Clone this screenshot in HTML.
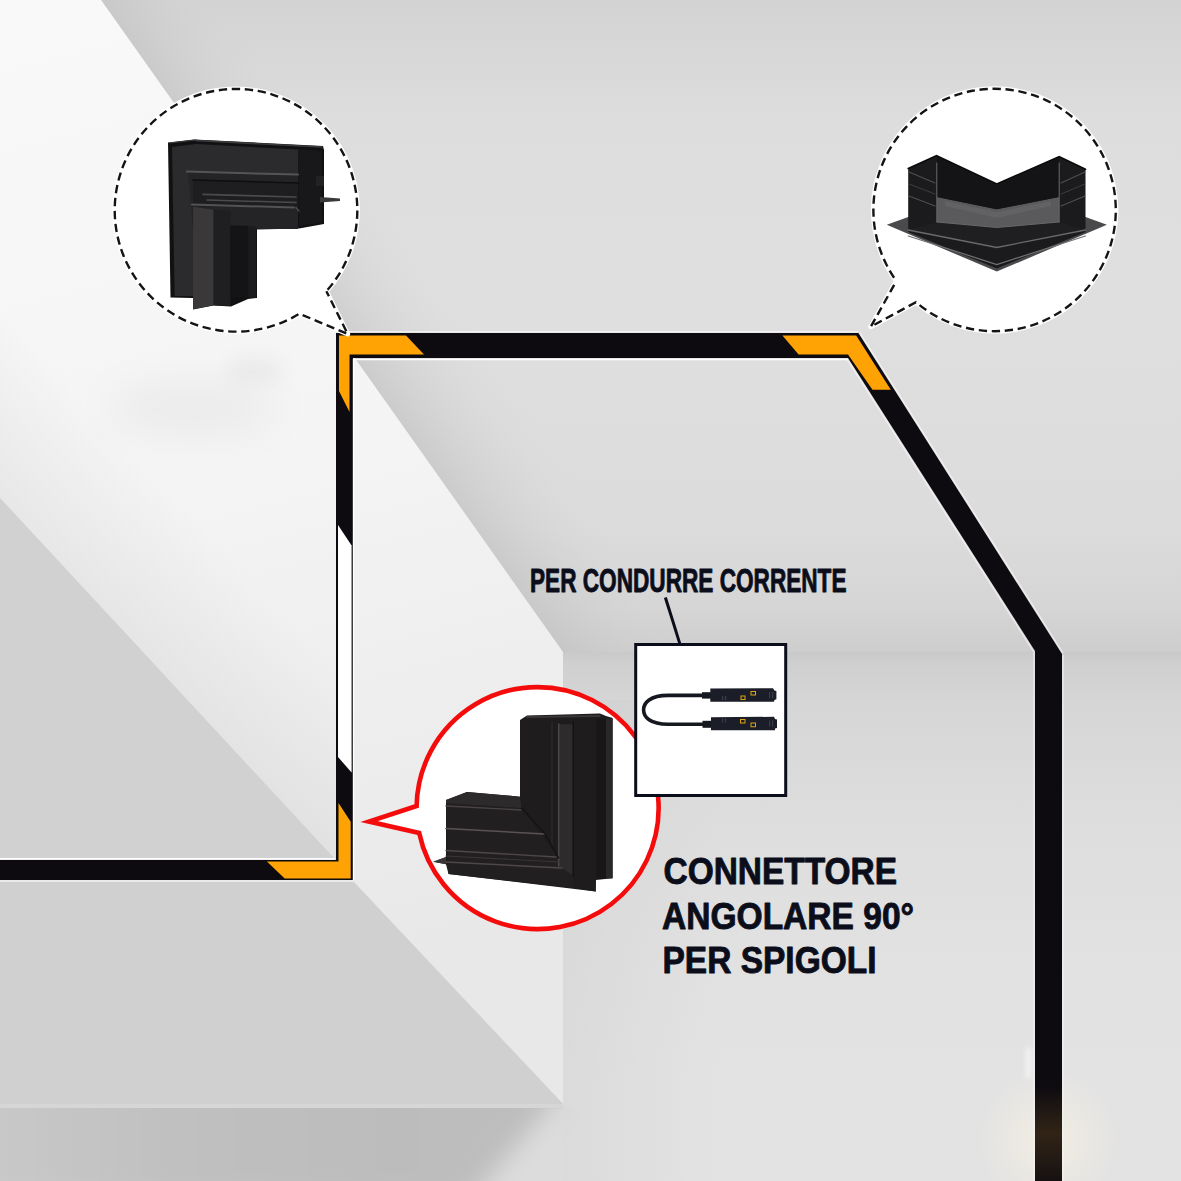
<!DOCTYPE html>
<html><head><meta charset="utf-8">
<style>
html,body{margin:0;padding:0;width:1181px;height:1181px;overflow:hidden;background:#dcdcdc;}
svg{display:block;position:absolute;left:0;top:0;}
.t{font-family:"Liberation Sans",sans-serif;font-weight:bold;fill:#0b0e1a;stroke:#0b0e1a;stroke-width:0.9;stroke-linejoin:round;}
</style></head><body>
<svg width="1181" height="1181" viewBox="0 0 1181 1181">
<defs>
<linearGradient id="ceil" gradientUnits="userSpaceOnUse" x1="0" y1="0" x2="0" y2="655">
<stop offset="0" stop-color="#d3d3d3"/><stop offset="0.18" stop-color="#dddddd"/><stop offset="0.45" stop-color="#dfdfdf"/><stop offset="0.8" stop-color="#dcdcdc"/><stop offset="0.93" stop-color="#d5d5d5"/><stop offset="1" stop-color="#cdcdcd"/>
</linearGradient>
<!-- shade along L1 on ceiling side: perpendicular direction (652,-462) -->
<linearGradient id="l1shade" gradientUnits="userSpaceOnUse" x1="332" y1="326" x2="422" y2="262">
<stop offset="0" stop-color="#c4c4c4" stop-opacity="0.7"/><stop offset="1" stop-color="#d8d8d8" stop-opacity="0"/>
</linearGradient>
<linearGradient id="wall" gradientUnits="userSpaceOnUse" x1="0" y1="652" x2="0" y2="1181">
<stop offset="0" stop-color="#c9c9c9"/><stop offset="0.02" stop-color="#cfcfcf"/><stop offset="0.1" stop-color="#d6d6d6"/><stop offset="0.3" stop-color="#dddddd"/><stop offset="0.55" stop-color="#e1e1e1"/><stop offset="0.8" stop-color="#e3e3e3"/><stop offset="1" stop-color="#e3e3e3"/>
</linearGradient>
<linearGradient id="white" gradientUnits="userSpaceOnUse" x1="0" y1="0" x2="250" y2="1000">
<stop offset="0" stop-color="#f9f9f9"/><stop offset="0.5" stop-color="#f4f4f4"/><stop offset="1" stop-color="#e8e8e8"/>
</linearGradient>
<linearGradient id="botband" gradientUnits="userSpaceOnUse" x1="0" y1="0" x2="560" y2="0">
<stop offset="0" stop-color="#c8c8c8"/><stop offset="0.3" stop-color="#c0c0c0"/><stop offset="0.7" stop-color="#bcbcbc"/><stop offset="1" stop-color="#bebebe"/>
</linearGradient>
<clipPath id="bbclip"><rect x="0" y="1108" width="600" height="80"/></clipPath>
<filter id="blur8" x="-20%" y="-50%" width="140%" height="200%"><feGaussianBlur stdDeviation="9"/></filter>
<radialGradient id="glow" cx="1048" cy="1140" r="70" gradientUnits="userSpaceOnUse">
<stop offset="0" stop-color="#fbf3e2" stop-opacity="0.65"/><stop offset="1" stop-color="#fbf3e2" stop-opacity="0"/>
</radialGradient>
<linearGradient id="barglow" gradientUnits="userSpaceOnUse" x1="0" y1="1085" x2="0" y2="1181">
<stop offset="0" stop-color="#3a2a18" stop-opacity="0"/><stop offset="0.5" stop-color="#3a2a18" stop-opacity="0.8"/><stop offset="1" stop-color="#3a2a18" stop-opacity="0.2"/>
</linearGradient>
<filter id="blur20" x="-50%" y="-50%" width="200%" height="200%"><feGaussianBlur stdDeviation="20"/></filter>
<filter id="blur3" x="-50%" y="-50%" width="200%" height="200%"><feGaussianBlur stdDeviation="2.5"/></filter>
<linearGradient id="l2shade" gradientUnits="userSpaceOnUse" x1="167" y1="678" x2="262" y2="590">
<stop offset="0" stop-color="#d0d0d0" stop-opacity="0.35"/><stop offset="1" stop-color="#d0d0d0" stop-opacity="0"/>
</linearGradient>
<linearGradient id="wallleft" gradientUnits="userSpaceOnUse" x1="563" y1="0" x2="720" y2="0">
<stop offset="0" stop-color="#c8c8c8" stop-opacity="0.3"/><stop offset="1" stop-color="#c8c8c8" stop-opacity="0"/>
</linearGradient>
<filter id="blur12" x="-20%" y="-50%" width="140%" height="200%"><feGaussianBlur stdDeviation="12"/></filter>
</defs>
<!-- ceiling -->
<rect x="0" y="0" width="1181" height="660" fill="url(#ceil)"/>
<polygon points="101,0 563,652 800,652 340,0" fill="url(#l1shade)"/>
<!-- right wall -->
<rect x="563" y="652" width="618" height="529" fill="url(#wall)"/>
<rect x="563" y="700" width="160" height="481" fill="url(#wallleft)"/>
<rect x="960" y="1060" width="180" height="121" fill="url(#glow)"/>
<rect x="1026" y="1048" width="5" height="30" fill="#f4f4f4" filter="url(#blur3)"/>
<!-- white wall face -->
<polygon points="0,0 101,0 563,652 563,1104 352,880 352,860 334,858 0,498" fill="url(#white)"/>
<ellipse cx="192" cy="408" rx="85" ry="24" fill="#000" fill-opacity="0.045" filter="url(#blur20)"/>
<ellipse cx="255" cy="370" rx="30" ry="14" fill="#000" fill-opacity="0.035" filter="url(#blur8)"/>
<polygon points="0,498 334,858 336,858 336,500 0,140" fill="url(#l2shade)"/>
<!-- lower-left gray triangle above bar -->
<polygon points="0,498 334,858 0,858" fill="#d1d1d1"/>
<!-- below bar -->
<polygon points="0,880 352,880 563,1104 0,1104" fill="#d0d0d0"/>
<rect x="0" y="1104" width="563" height="5" fill="#d6d6d6"/>
<g clip-path="url(#bbclip)"><polygon points="-40,1080 558,1080 550,1106 470,1200 -40,1200" fill="url(#botband)" filter="url(#blur12)"/></g>

<!-- frame bars -->
<g fill="#0d0b10">
<rect x="336" y="333" width="17" height="547"/>
<polygon points="336,333 858.4,333 1062,654 1062,1181 1035,1181 1035,651 848,358 336,358"/>
<rect x="0" y="860" width="353" height="20"/>
</g>
<rect x="1035" y="1085" width="27" height="96" fill="url(#barglow)"/>
<g stroke="#f4f4f4" stroke-width="1.2" fill="none" stroke-opacity="0.8">
<line x1="1034" y1="652" x2="1034" y2="1181"/>
<line x1="1063" y1="655" x2="1063" y2="1181"/>
</g>
<g stroke="#ffffff" stroke-width="1.4" fill="none">
<polyline points="353.5,880 353.5,359.5 847.5,359.5"/>
<line x1="0" y1="858.8" x2="335" y2="858.8"/>
<line x1="0" y1="881" x2="353" y2="881" stroke-opacity="0.7"/>
<line x1="337" y1="331.8" x2="858" y2="331.8" stroke-opacity="0.6"/>
<line x1="859.6" y1="332.4" x2="1063.2" y2="653.4" stroke-opacity="0.55"/>
<line x1="846.8" y1="358.8" x2="1033.8" y2="651.8" stroke-opacity="0.55"/>
</g>
<!-- white strip in left bar -->
<polygon points="338,525 351.6,545.6 351.6,772.6 338,757" fill="#ffffff"/>
<!-- orange -->
<g fill="#ffa305">
<polygon points="339,335.6 406,335.6 424,354.5 349.5,354.5 349.5,412 339,391"/>
<polygon points="338.5,803 350.7,821.8 350.7,878.5 284.7,878.5 266.9,861.6 338.5,861.6"/>
<polygon points="782.4,335.6 856.2,335.6 890.8,389.8 872.5,389.8 848,354.5 798.6,354.5"/>
</g>

<!-- dashed bubbles -->
<g fill="#ffffff" stroke="#ffffff" stroke-width="5" stroke-linejoin="round">
<path d="M326.36,291.23 A121.3,121.3 0 1 0 299.43,313.69 L347.7,334 Z"/>
<path d="M896.36,280.98 A121.2,121.2 0 1 1 915.94,302.20 L870.8,326.7 Z"/>
</g>
<g fill="none" stroke="#141414" stroke-width="2.4" stroke-dasharray="8.3 4.7">
<path d="M326.36,291.23 A121.3,121.3 0 1 0 299.43,313.69 L347.7,334 Z" stroke-dashoffset="11.05"/>
<path d="M896.36,280.98 A121.2,121.2 0 1 1 915.94,302.20 L870.8,326.7 Z" stroke-dashoffset="8.95"/>
</g>

<!-- left product -->
<g>
<polygon points="168,142.5 194,139.5 323,146 324,150 324,224 299,228.5 257,229.5 257,298 248,299 231,306.5 213.6,305.5 193,309.5 193,298 170.5,297.5" fill="#111012"/>
<polygon points="172,147 196,144 298,149.5 298,227 213.6,228 213.6,305 193,309 193,296 174.6,296" fill="#2b2a2c"/>
<polygon points="298,149 322,151 322,223 299,226" fill="#18171a"/>
<polygon points="188,171 298,174 298,229 193,229" fill="#242325"/>
<polygon points="193,180 298,183 298,208 193,206" fill="#1e1d1f"/>
<polygon points="193.1,206.8 213.6,209.7 213.6,305.2 193.1,309" fill="#3a3839"/>
<polygon points="213.6,209.7 230.6,211 230.6,306 213.6,305.2" fill="#1f1e20"/>
<polygon points="230.6,225.3 248.1,226 248.1,297.4 230.6,297.4" fill="#141315"/>
<polygon points="248.1,226.3 256.4,226.5 256.4,298 248.1,297.4" fill="#1b1a1c"/>
<g stroke-linecap="round" fill="none">
<line x1="187" y1="171.6" x2="298" y2="174.6" stroke="#555456" stroke-width="2"/>
<line x1="193" y1="180" x2="298" y2="183" stroke="#0e0e0f" stroke-width="1.5"/>
<line x1="203" y1="194.4" x2="296" y2="197" stroke="#4b4a4c" stroke-width="1.6"/>
<line x1="207" y1="200" x2="296" y2="202.5" stroke="#4b4a4c" stroke-width="1.5"/>
<line x1="192" y1="204.6" x2="294" y2="207.5" stroke="#535254" stroke-width="2"/>
<line x1="170" y1="143" x2="196" y2="140" stroke="#3c3b3d" stroke-width="1.2"/>
<line x1="196" y1="140.5" x2="322" y2="147" stroke="#3c3b3d" stroke-width="1.6"/>
<line x1="296" y1="207.5" x2="299" y2="211" stroke="#4b4a4c" stroke-width="1.5"/>
</g>
<polygon points="316,176 324,176 324,186 316,186" fill="#222"/>
<polygon points="320,197 340,198.5 340,201 320,202.5" fill="#3a3a3a"/>
</g>

<!-- right product -->
<g>
<polygon points="886.8,224.8 908.2,217 996.8,190 1085.5,217 1106.9,224.8 996.8,271.6" fill="#4a494c"/>
<polygon points="908.2,168.4 936.5,155.7 996.8,184 1059.2,156.7 1085.5,169.3 1085.5,232 996.8,268.5 908.2,232" fill="#1b1a1c"/>
<polygon points="937,197 996.8,209.3 1059,197 1059,222 996.8,227.5 937,222" fill="#5a595c"/>
<polygon points="945,201 996.8,212 1051,201 1051,206 996.8,218 945,206" fill="#626164"/>
<polygon points="937,157 996.8,185.5 1059,158 1059,197 996.8,209.3 937,197" fill="#141315"/>
<polygon points="937,222 996.8,227.5 1059,222 1085.5,229.7 996.8,247.2 908.2,229.7" fill="#1f1e21"/>
<g fill="none" stroke-linecap="round">
<polyline points="908.2,230 996.8,247.5 1085.5,230" stroke="#6a696c" stroke-width="1.3"/>
<polyline points="908.2,236 996.8,264.5 1085.5,236" stroke="#727174" stroke-width="1.2"/>
<polyline points="937,222 996.8,227.5 1059,222" stroke="#6a696c" stroke-width="1"/>
<line x1="936.8" y1="163" x2="936.8" y2="222" stroke="#6a696c" stroke-width="1"/>
<line x1="1059.2" y1="163" x2="1059.2" y2="222" stroke="#6a696c" stroke-width="1"/>
<polyline points="909,172 935,183" stroke="#4f4e51" stroke-width="1.1"/>
<polyline points="909,184 935,194" stroke="#3d3c3f" stroke-width="1"/>
<polyline points="909,196 935,206" stroke="#4f4e51" stroke-width="1.1"/>
<polyline points="1061,183 1085,172" stroke="#4f4e51" stroke-width="1.1"/>
<polyline points="1061,194 1085,184" stroke="#3d3c3f" stroke-width="1"/>
<polyline points="1061,206 1085,196" stroke="#4f4e51" stroke-width="1.1"/>
<polyline points="908.2,168.4 936.5,155.7 996.8,184 1059.2,156.7 1085.5,169.3" stroke="#0b0b0c" stroke-width="1.6"/>
</g>
</g>

<!-- red bubble -->
<path d="M416.62,806.00 A121,121 0 1 1 419.19,833.00 L369,821.5 Z" fill="#ffffff" stroke="#f40b0b" stroke-width="4.6" stroke-linejoin="miter"/>

<!-- red product -->
<g>
<polygon points="520,720 527,715.5 600,713.5 606,716 612.6,718 612.6,878.5 605,879 596,880 595.7,891.6 448.5,874 446,864.3 433.2,861.8 446,857 446,800 467,791.9 520,796.7" fill="#1e1c1d"/>
<polygon points="446,803 521.7,808 558.7,858 573,875 573,888 448.5,874" fill="#221f20"/>
<polygon points="558.7,724.3 573.2,724.3 573.2,875.5 558.7,866" fill="#2e2b2c"/>
<polygon points="573.2,721 595.7,721 595.7,891.6 573.2,888" fill="#1f1c1d"/>
<polygon points="596.5,719 606,719 606,879 596.5,879" fill="#181617"/>
<polygon points="606,718.5 612.6,719 612.6,878 606,878" fill="#2a2728"/>
<polygon points="446,800 467,791.9 520,796.7 521.7,808 446,803.1" fill="#2d2a2b"/>
<g fill="none" stroke-linecap="round">
<line x1="558.7" y1="724" x2="558.7" y2="866" stroke="#4a4546" stroke-width="1.6"/>
<line x1="573.2" y1="722" x2="573.2" y2="876" stroke="#121011" stroke-width="1.2"/>
<line x1="552" y1="722" x2="552" y2="846" stroke="#2e2b2c" stroke-width="1.2"/>
<line x1="527" y1="717" x2="600" y2="716" stroke="#3a3637" stroke-width="2"/>
<line x1="446" y1="806" x2="521" y2="810" stroke="#4a4445" stroke-width="1.4"/>
<line x1="446" y1="828.5" x2="545" y2="834" stroke="#5a5253" stroke-width="1.6"/>
<line x1="446" y1="850.5" x2="556" y2="857" stroke="#4e4748" stroke-width="1.4"/>
<line x1="446" y1="856" x2="560" y2="862" stroke="#3a3435" stroke-width="1.2"/>
<line x1="446" y1="862" x2="562" y2="868" stroke="#4e4748" stroke-width="1.4"/>
<polyline points="521.7,808 545,834 558.7,858" stroke="#141213" stroke-width="1.4"/>
</g>
<polygon points="433.2,861.8 446,857 446,864.3" fill="#3a3637"/>
</g>

<!-- text -->
<text class="t" x="530" y="591.7" font-size="33.4" textLength="316.5" lengthAdjust="spacingAndGlyphs">PER CONDURRE CORRENTE</text>
<line x1="665.4" y1="597.5" x2="679.8" y2="643.6" stroke="#0b0e1a" stroke-width="3"/>
<rect x="635.7" y="644.5" width="150" height="151" fill="#ffffff" stroke="#0b0e1a" stroke-width="3"/>

<!-- cable -->
<g>
<path d="M703,695.4 L668,695.4 C650,695.4 643.6,703 643.6,710 C643.6,717 650,724.2 668,724.2 L704,724.2" fill="none" stroke="#161820" stroke-width="3.6"/>
<rect x="702" y="692.2" width="9" height="6.4" fill="#161820"/>
<rect x="702.5" y="720.8" width="9" height="7" fill="#161820"/>
<polygon points="710.3,688.6 773,688.2 774.4,690.5 776.4,691 776.4,699.3 774.4,700 774,701.8 710.3,701.8" fill="#1b1e28"/>
<polygon points="711,717.2 774,716.8 775,719 777,719.5 777,728 775,728.5 775,730.3 711,730.3" fill="#1b1e28"/>
<g fill="#d9a514">
<path d="M740.5,695.5 h5 v4.5 h-5 z M741.5,696.5 v2.5 h3 v-2.5 z" fill-rule="evenodd"/>
<path d="M750.5,691 h5.5 v4.5 h-5.5 z M751.5,692 v2.5 h3.5 v-2.5 z" fill-rule="evenodd"/>
<path d="M740,719 h5.5 v4.5 h-5.5 z M741,720 v2.5 h3.5 v-2.5 z" fill-rule="evenodd"/>
<path d="M750.5,722.6 h5.5 v4.6 h-5.5 z M751.5,723.6 v2.6 h3.5 v-2.6 z" fill-rule="evenodd"/>
</g>
<g fill="#3a3d48">
<rect x="722" y="696" width="1.2" height="4"/><rect x="725" y="696" width="1.2" height="4"/>
<rect x="769" y="692" width="1.2" height="6"/><rect x="772" y="692" width="1.2" height="6"/>
<rect x="722" y="718.5" width="1.2" height="4"/><rect x="725" y="718.5" width="1.2" height="4"/>
<rect x="769" y="720.5" width="1.2" height="6"/><rect x="772" y="720.5" width="1.2" height="6"/>
</g>
</g>

<text class="t" x="663.5" y="883.9" font-size="37.8" textLength="233.5" lengthAdjust="spacingAndGlyphs">CONNETTORE</text>
<text class="t" x="662" y="928.9" font-size="37.8" textLength="252" lengthAdjust="spacingAndGlyphs">ANGOLARE 90°</text>
<text class="t" x="662.5" y="972.8" font-size="37.8" textLength="214" lengthAdjust="spacingAndGlyphs">PER SPIGOLI</text>
</svg>
</body></html>
